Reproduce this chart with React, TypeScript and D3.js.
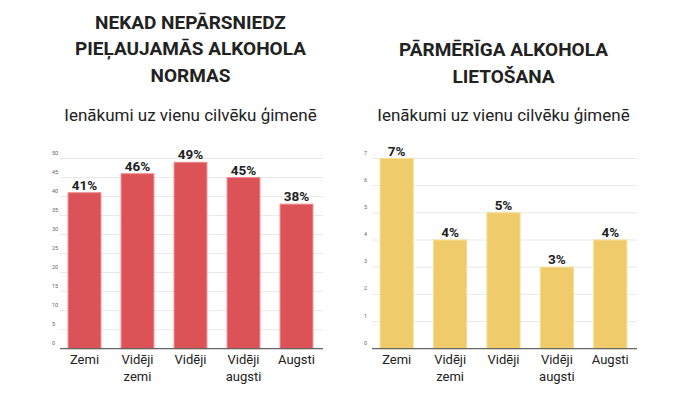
import React from "react";
import * as d3 from "d3";

const categories = ["Zemi", "Vidēji zemi", "Vidēji", "Vidēji augsti", "Augsti"];
const leftValues = [41, 46, 49, 45, 38];
const rightValues = [7, 4, 5, 3, 4];
const leftTicks = [0, 5, 10, 15, 20, 25, 30, 35, 40, 45, 50];
const rightTicks = [0, 1, 2, 3, 4, 5, 6, 7];
const leftTitle = ["NEKAD NEPĀRSNIEDZ", "PIEĻAUJAMĀS ALKOHOLA", "NORMAS"];
const rightTitle = ["PĀRMĒRĪGA ALKOHOLA", "LIETOŠANA"];
const subtitle = "Ienākumi uz vienu cilvēku ģimenē";

const FONT = "Roboto, 'Noto Sans', sans-serif";

function Panel({ values, ticks, max, x0, x1, fill, stroke, title, titleY }: any) {
  const y = d3.scaleLinear().domain([0, max]).range([348.7, 158.5]);
  const x = d3.scaleBand<string>().domain(categories).range([x0, x1]).paddingInner(0.38).paddingOuter(0.19);
  const cx = (x0 + x1) / 2;
  return (
    <g>
      {title.map((t: string, i: number) => (
        <text key={t} x={cx} y={titleY + i * 26.5} textAnchor="middle" fontFamily={FONT} fontWeight={700} fontSize={19} fill="#222" dominantBaseline="central">{t}</text>
      ))}
      <text x={cx} y={115} textAnchor="middle" fontFamily={FONT} fontSize={17} fill="#222" dominantBaseline="central">{subtitle}</text>
      {ticks.map((t: number) => (
        <g key={t}>
          {t > 0 && <line x1={x0 + 2} x2={x1} y1={y(t)} y2={y(t)} stroke="#e8e8e8" strokeWidth={1} />}
          <text x={x0 - 6} y={y(t) - 4} fontFamily={FONT} fontSize={5.5} fill="#666">{t}</text>
        </g>
      ))}
      {categories.map((c, i) => (
        <g key={c}>
          <rect x={x(c)!} y={y(values[i])} width={x.bandwidth()} height={y(0) - y(values[i])} fill={fill} stroke={stroke} strokeWidth={1} />
          <text x={x(c)! + x.bandwidth() / 2} y={y(values[i]) - 8} textAnchor="middle" fontFamily={FONT} fontWeight={700} fontSize={13.5} fill="#222" dominantBaseline="central">{values[i] + "%"}</text>
          {c.split(" ").map((w, j) => (
            <text key={j} x={x(c)! + x.bandwidth() / 2} y={359 + j * 17} textAnchor="middle" fontFamily={FONT} fontSize={13} fill="#222" dominantBaseline="central">{w}</text>
          ))}
        </g>
      ))}
      <line x1={x0 + 2} x2={x1} y1={y(0)} y2={y(0)} stroke="#666" strokeWidth={1.2} />
    </g>
  );
}

export default function App() {
  return (
    <svg width={685} height={399} style={{ position: "absolute", left: 0, top: 0, background: "#fff" }}>
      <Panel values={leftValues} ticks={leftTicks} max={50} x0={58} x1={323} fill="#dc5357" stroke="#ef8a8c" title={leftTitle} titleY={22} />
      <Panel values={rightValues} ticks={rightTicks} max={7} x0={370} x1={637} fill="#efcb6b" stroke="#f7dd8e" title={rightTitle} titleY={49.5} />
    </svg>
  );
}
